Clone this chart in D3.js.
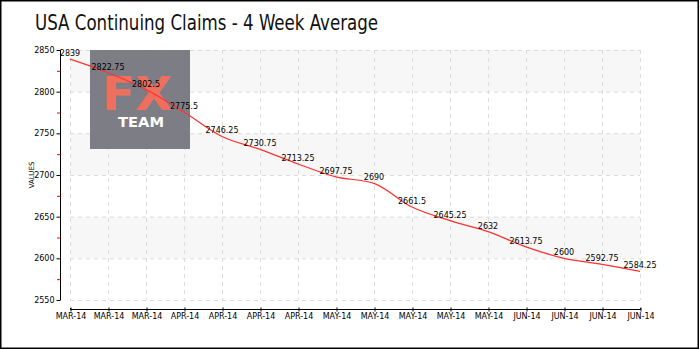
<!DOCTYPE html>
<html><head><meta charset="utf-8">
<script src="https://cdn.jsdelivr.net/npm/d3@7"></script>
<style>body{margin:0;background:#fff}svg{display:block}</style>
</head><body><svg id="c" width="700" height="350"></svg>
<script>
const title = "USA Continuing Claims - 4 Week Average";
const months = ["MAR-14","MAR-14","MAR-14","APR-14","APR-14","APR-14","APR-14","MAY-14","MAY-14","MAY-14","MAY-14","MAY-14","JUN-14","JUN-14","JUN-14","JUN-14"];
const values = [2839,2822.75,2802.5,2775.5,2746.25,2730.75,2713.25,2697.75,2690,2661.5,2645.25,2632,2613.75,2600,2592.75,2584.25];
const yTicks = [2550,2600,2650,2700,2750,2800,2850];
const yMinor = [2575,2625,2675,2725,2775,2825];
const yLabel = "VALUES";

const svg = d3.select("#c");
const L = 70, R = 640, T = 50, B = 300;
const idx = values.map((d,i)=>i);
const x = d3.scalePoint().domain(idx).range([L,R]);
const y = d3.scaleLinear().domain([2550,2850]).range([B,T]);
const font = "DejaVu Sans, sans-serif";

// border
svg.append("rect").attr("x",0.75).attr("y",0.75).attr("width",697.5).attr("height",347.5)
  .attr("fill","none").attr("stroke","#000").attr("stroke-width",1.5);

// title
svg.append("text").attr("x",35).attr("y",30).attr("font-family","DejaVu Sans Condensed, DejaVu Sans, sans-serif")
  .attr("font-size",21).attr("fill","#111").attr("textLength",343).attr("lengthAdjust","spacingAndGlyphs").text(title);

// bands
for (let i=0;i<yTicks.length-1;i++){
  const lo=yTicks[i], hi=yTicks[i+1];
  if ((yTicks.length-2-i)%2===0){
    svg.append("rect").attr("x",L).attr("y",y(hi)).attr("width",R-L).attr("height",y(lo)-y(hi)).attr("fill","#f7f7f7");
  }
}
// grid
svg.append("g").selectAll("line").data(yTicks).join("line")
  .attr("x1",L).attr("x2",R).attr("y1",d=>y(d)+0.5).attr("y2",d=>y(d)+0.5)
  .attr("stroke","#dcdcdc").attr("stroke-dasharray","4,4");
svg.append("g").selectAll("line").data(idx).join("line")
  .attr("x1",d=>x(d)+0.5).attr("x2",d=>x(d)+0.5).attr("y1",T).attr("y2",B)
  .attr("stroke","#dcdcdc").attr("stroke-dasharray","4,4");

// logo
const lg = svg.append("g");
lg.append("rect").attr("x",90).attr("y",50).attr("width",100).attr("height",99).attr("fill","#76767e").attr("opacity",0.95);
lg.append("text").attr("x",102).attr("y",110).attr("font-family","DejaVu Sans, sans-serif").attr("font-weight","bold")
  .attr("font-size",46).attr("fill","#ee6f5d").attr("textLength",70).attr("lengthAdjust","spacingAndGlyphs").text("FX");
lg.append("text").attr("x",118).attr("y",127).attr("font-family","DejaVu Sans, sans-serif").attr("font-weight","bold")
  .attr("font-size",14).attr("fill","#fff").attr("textLength",46).attr("lengthAdjust","spacingAndGlyphs").text("TEAM");

// y axis
const ya = svg.append("g").attr("transform",`translate(60.5,0)`)
  .call(d3.axisLeft(y).tickValues(yTicks).tickSize(4).tickPadding(2).tickFormat(d3.format("d")));
ya.select(".domain").attr("stroke","#000").attr("d",`M0,${T}V${B}`);
ya.selectAll(".tick line").attr("stroke","#000");
ya.selectAll("text").attr("font-family",font).attr("font-size",8).attr("fill","#000");
svg.append("g").selectAll("line").data(yMinor).join("line")
  .attr("x1",57).attr("x2",60.5).attr("y1",d=>y(d)+0.5).attr("y2",d=>y(d)+0.5).attr("stroke","#e00");
svg.append("text").attr("transform",`translate(34,${(T+B)/2}) rotate(-90)`).attr("text-anchor","middle")
  .attr("font-family",font).attr("font-size",7).attr("fill","#000").text(yLabel);

// x axis
const xa = svg.append("g").attr("transform",`translate(0.5,309.5)`)
  .call(d3.axisBottom(x).tickSize(2).tickPadding(2).tickFormat(i=>months[i]));
xa.select(".domain").attr("stroke","#000").attr("d",`M${L},-1.5V0H${R}V-1.5`);
xa.selectAll(".tick line").attr("stroke","#000").attr("y1",-2);
xa.selectAll("text").attr("font-family",font).attr("font-size",8).attr("fill","#000");

// line
const line = d3.line().x((d,i)=>x(i)).y(d=>y(d)).curve(d3.curveMonotoneX);
svg.append("path").datum(values).attr("d",line).attr("fill","none").attr("stroke","#ff3030").attr("stroke-width",1.2);

// labels
svg.append("g").selectAll("text").data(values).join("text")
  .attr("x",(d,i)=>x(i)).attr("y",d=>y(d)-3).attr("text-anchor","middle")
  .attr("font-family",font).attr("font-size",8).attr("fill","#000").text(d=>d);
</script></body></html>
